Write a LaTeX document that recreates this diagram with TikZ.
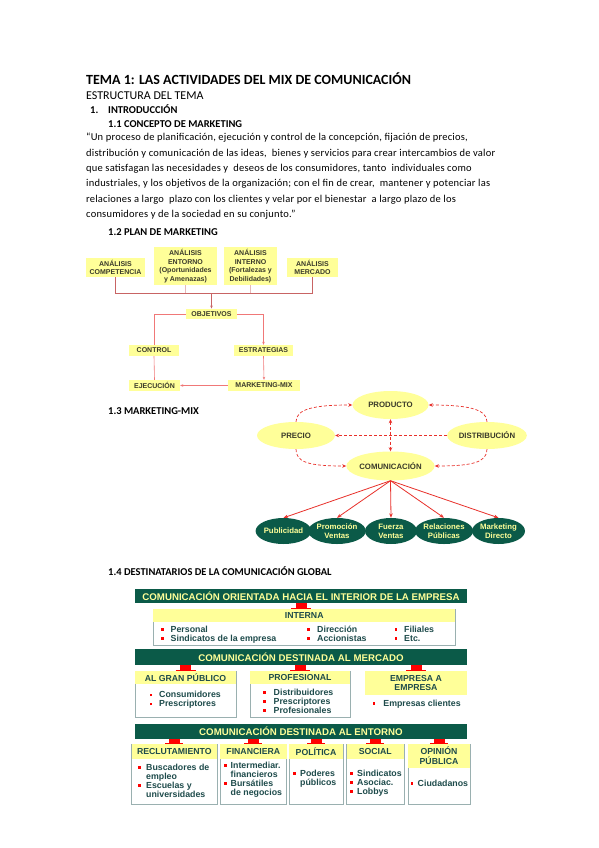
\documentclass[tikz,border=0pt]{standalone}
\usepackage{fontspec}
\setmainfont{Carlito}
\newfontfamily\arialf{Liberation Sans}
\newfontfamily\quotef[LetterSpace=2.0]{Carlito}
\usetikzlibrary{arrows.meta,shapes.geometric,calc}
\definecolor{pyel}{HTML}{FFFF99}
\definecolor{dgreen}{HTML}{0B5A48}
\definecolor{ltext}{HTML}{FFFF99}
\definecolor{ptext}{HTML}{3A3A2A}
\definecolor{itext}{HTML}{1E4B4B}
\definecolor{pline}{HTML}{C86464}
\definecolor{lline}{HTML}{F07878}
\definecolor{mred}{HTML}{E8302A}
\definecolor{bord}{HTML}{9AB0B0}
\newcommand\rbul[1][7.5pt]{\makebox[#1][l]{\color{red}\raisebox{1.6pt}{\rule{2.4pt}{2.4pt}}}}
\newcommand\itind[1][7.5pt]{\hspace*{#1}}
\begin{document}
\begin{tikzpicture}[x=1pt,y=-1pt,
  txt/.style={anchor=base west, inner sep=0pt},
  ttl/.style={txt, font=\fontsize{14}{16}\selectfont\bfseries},
  sub/.style={txt, font=\fontsize{12}{14}\selectfont},
  sec/.style={txt, font=\fontsize{10.5}{12}\selectfont\bfseries},
  qt/.style={txt, font=\quotef\fontsize{10.5}{12}\selectfont},
  pbox/.style={fill=pyel, inner sep=0pt, align=center, text=ptext, font=\arialf\bfseries\fontsize{7}{8.5}\selectfont},
  pln/.style={draw=pline, line width=0.8pt},
  lln/.style={draw=lline, line width=0.6pt},
  ptip/.style={-{Stealth[length=3pt,width=2.5pt]}},
  yell/.style={ellipse, fill=pyel, inner sep=0pt, text=ptext, font=\arialf\bfseries\fontsize{7.8}{9}\selectfont},
  dell/.style={ellipse, fill=dgreen, inner sep=0pt, text=ltext, align=center, minimum height=26pt, font=\arialf\bfseries\fontsize{7.8}{9}\selectfont},
  dsh/.style={draw=mred, dash pattern=on 3pt off 2pt, line width=0.7pt},
  mtip/.style={-{Stealth[length=4pt,width=3.5pt]}},
  sol/.style={draw=mred, line width=0.8pt, -{Stealth[length=4.5pt,width=3.5pt]}},
  bar/.style={fill=dgreen, text=ltext, inner sep=0pt, minimum width=332pt, font=\arialf\bfseries\fontsize{9.7}{11}\selectfont},
  frame/.style={draw=bord, line width=0.8pt, fill=white, inner sep=0pt},
  hdr/.style={fill=pyel, inner sep=0pt, anchor=north, align=center, text=itext, font=\arialf\bfseries\fontsize{8.7}{9.5}\selectfont},
  item/.style={anchor=north west, inner sep=0pt, align=left, text=itext, font=\arialf\bfseries\fontsize{8.8}{9}\selectfont},
  rmark/.style={draw=red, line width=11pt},
  rline/.style={draw=red, line width=0.8pt}
]
\useasboundingbox (0,0) rectangle (599,848);
\fill[white] (0,0) rectangle (599,848);

% ---------- header texts ----------
\node[ttl] (title) at (86,84.5) {TEMA 1: LAS ACTIVIDADES DEL MIX DE COMUNICACIÓN};
\node[sub] (estr) at (86,100) {ESTRUCTURA DEL TEMA};
\node[sec] (n1) at (90,113.5) {1.};
\node[sec] (intro) at (108,113.5) {INTRODUCCIÓN};
\node[sec] (s11) at (108,128) {1.1 CONCEPTO DE MARKETING};
\node[qt] (q1) at (86,140.5) {“Un proceso de planificación, ejecución y control de la concepción, fijación de precios,};
\node[qt] (q2) at (86,156) {distribución y comunicación de las ideas,\ \ bienes y servicios para crear intercambios de valor};
\node[qt] (q3) at (86,171.3) {que satisfagan las necesidades y\ \ deseos de los consumidores, tanto\ \ individuales como};
\node[qt] (q4) at (86,186.7) {industriales, y los objetivos de la organización; con el fin de crear,\ \ mantener y potenciar las};
\node[qt] (q5) at (86,202) {relaciones a largo\ \ plazo con los clientes y velar por el bienestar\ \ a largo plazo de los};
\node[qt] (q6) at (86,217.3) {consumidores y de la sociedad en su conjunto.”};

% ---------- 1.2 plan de marketing ----------
\node[sec] (s12) at (108,235.5) {1.2 PLAN DE MARKETING};
\node[pbox, minimum width=59pt, minimum height=19pt] (comp) at (115.5,267.5) {ANÁLISIS\\COMPETENCIA};
\node[pbox, minimum width=63pt, minimum height=38pt] (ent) at (185.5,266) {ANÁLISIS\\ENTORNO\\(Oportunidades\\y Amenazas)};
\node[pbox, minimum width=53pt, minimum height=38pt] (inte) at (250.5,266) {ANÁLISIS\\INTERNO\\(Fortalezas y\\Debilidades)};
\node[pbox, minimum width=51pt, minimum height=19pt] (merc) at (312.5,267.5) {ANÁLISIS\\MERCADO};
\node[pbox, minimum width=51pt, minimum height=10.5pt] (obj) at (211.5,314) {OBJETIVOS};
\node[pbox, minimum width=50pt, minimum height=11pt] (ctrl) at (154,350.5) {CONTROL};
\node[pbox, minimum width=59pt, minimum height=11pt] (estrat) at (263.5,350.5) {ESTRATEGIAS};
\node[pbox, minimum width=51pt, minimum height=11pt] (ejec) at (154.5,385.5) {EJECUCIÓN};
\node[pbox, minimum width=72pt, minimum height=11pt] (mmix) at (264,385.5) {MARKETING-MIX};
\coordinate (bus) at (211.5,293.3);
\draw[pln] (comp.south) |- (bus) -| (merc.south);
\draw[lln, draw=pline!45] (ent.south) -- (ent.south |- bus);
\draw[lln, draw=pline!45] (inte.south) -- (inte.south |- bus);
\draw[pln, ptip] (bus) -- (obj.north);
\draw[lln, ptip] (obj.east) -| (estrat.north);
\draw[lln, ptip] (estrat.south) -- (mmix.north);
\draw[lln, ptip] (mmix.west) -- (ejec.east);
\draw[lln] (ejec.north) -- (ctrl.south);
\draw[lln] (ctrl.north) |- (obj.west);

% ---------- 1.3 marketing mix ----------
\node[sec] (s13) at (108,414) {1.3 MARKETING-MIX};
\node[yell, minimum width=76pt, minimum height=28pt] (prod) at (390.5,405) {PRODUCTO};
\node[yell, minimum width=78pt, minimum height=27pt] (prec) at (296,435.5) {PRECIO};
\node[yell, minimum width=77pt, minimum height=27pt] (dist) at (487,435.5) {DISTRIBUCIÓN};
\node[yell, minimum width=76pt, minimum height=29pt] (com) at (390.5,466) {COMUNICACIÓN};
\draw[dsh, mtip] (prec.north) .. controls +(0,-13) and +(-38,0) .. (prod.west);
\draw[dsh, mtip] (dist.north) .. controls +(0,-13) and +(38,0) .. (prod.east);
\draw[dsh, mtip] (prec.south) .. controls +(0,13) and +(-38,0) .. (com.west);
\draw[dsh, mtip] (dist.south) .. controls +(0,13) and +(38,0) .. (com.east);
\draw[dsh, mtip] (dist.west) -- (prec.east);
\draw[dsh, {Stealth[length=4pt,width=3.5pt]}-{Stealth[length=4pt,width=3.5pt]}] (prod.south) -- (com.north);
\node[dell, minimum width=53pt] (pub) at (283.5,531) {Publicidad};
\node[dell, minimum width=52pt] (prom) at (337,531) {Promoción\\Ventas};
\node[dell, minimum width=52pt] (fuer) at (391,531) {Fuerza\\Ventas};
\node[dell, minimum width=52pt] (rel) at (444,531) {Relaciones\\Públicas};
\node[dell, minimum width=53pt] (mkd) at (498.5,531) {Marketing\\Directo};
\foreach \t in {pub,prom,fuer,rel,mkd}{\draw[sol] (com.south) -- (\t.north);}

% ---------- 1.4 destinatarios ----------
\node[sec] (s14) at (108,575.5) {1.4 DESTINATARIOS DE LA COMUNICACIÓN GLOBAL};
\node[bar, minimum height=14.5pt] (bar1) at (301,596) {COMUNICACIÓN ORIENTADA HACIA EL INTERIOR DE LA EMPRESA};
\node[frame, minimum width=301.7pt, minimum height=36.7pt] (int) at (304.2,627.3) {};
\node[hdr, minimum width=301.7pt, minimum height=13.3pt] (inth) at (int.north) {INTERNA};
\node[item] (i1) at (161,625.6) {\rbul[9.5pt]Personal\\\rbul[9.5pt]Sindicatos de la empresa};
\node[item] (i2) at (307,625.6) {\rbul[10pt]Dirección\\\rbul[10pt]Accionistas};
\node[item] (i3) at (394.5,625.6) {\rbul[9.5pt]Filiales\\\rbul[9.5pt]Etc.};
\draw[rmark] (bar1.south) -- (bar1.south |- int.north);
\draw[rline] ($(bar1.south |- int.north)+(-10,0)$) -- ($(bar1.south |- int.north)+(10,0)$);

\node[bar, minimum height=15.7pt] (bar2) at (301,657.2) {COMUNICACIÓN DESTINADA AL MERCADO};
\node[frame, minimum width=101pt, minimum height=46pt] (gp) at (185.5,694) {};
\node[hdr, minimum width=101pt, minimum height=13pt] (gph) at (gp.north) {AL GRAN PÚBLICO};
\node[frame, minimum width=100pt, minimum height=46pt] (prof) at (300,694) {};
\node[hdr, minimum width=100pt, minimum height=13pt] (profh) at (prof.north) {PROFESIONAL};
\node[hdr, minimum width=102pt, minimum height=24pt, anchor=center] (emp) at (416,683) {EMPRESA A\\EMPRESA};
\node[item] (g1) at (149.5,691.1) {\rbul[9.5pt]Consumidores\\\rbul[9.5pt]Prescriptores};
\node[item] (p1) at (263,688.6) {\rbul[10.5pt]Distribuidores\\\rbul[10.5pt]Prescriptores\\\rbul[10.5pt]Profesionales};
\node[item] (e1) at (372.7,699.6) {\rbul[10.5pt]Empresas clientes};
\foreach \b in {gp,prof,emp}{
  \draw[rmark] (bar2.south -| \b.north) -- (\b.north);
  \draw[rline] ($(\b.north)+(-10,0)$) -- ($(\b.north)+(10,0)$);
}

\node[bar, minimum height=14.7pt] (bar3) at (301,731.6) {COMUNICACIÓN DESTINADA AL ENTORNO};
\node[frame, minimum width=85.3pt, minimum height=60pt] (rec) at (174.3,774) {};
\node[hdr, minimum width=85.3pt, minimum height=15pt] (rech) at (rec.north) {RECLUTAMIENTO};
\node[frame, minimum width=66.7pt, minimum height=60pt] (fin) at (253.3,774) {};
\node[hdr, minimum width=66.7pt, minimum height=15pt] (finh) at (fin.north) {FINANCIERA};
\node[frame, minimum width=54pt, minimum height=60pt] (pol) at (316,774) {};
\node[hdr, minimum width=54pt, minimum height=15pt] (polh) at (pol.north) {POLÍTICA};
\node[frame, minimum width=57.3pt, minimum height=60pt] (soc) at (375.3,774) {};
\node[hdr, minimum width=57.3pt, minimum height=15pt] (soch) at (soc.north) {SOCIAL};
\node[frame, minimum width=62pt, minimum height=60pt] (opi) at (439,774) {};
\node[hdr, minimum width=62pt, minimum height=24pt] (opih) at (opi.north) {OPINIÓN\\PÚBLICA};
\node[item] (r1) at (138,763.6) {\rbul[8pt]Buscadores de\\\itind[8pt]empleo\\\rbul[8pt]Escuelas y\\\itind[8pt]universidades};
\node[item] (f1) at (224,761.6) {\rbul[6.5pt]Intermediar.\\\itind[6.5pt]financieros\\\rbul[6.5pt]Bursátiles\\\itind[6.5pt]de negocios};
\node[item] (po1) at (293,769.6) {\rbul[7pt]Poderes\\\itind[7pt]públicos};
\node[item] (so1) at (350,769.6) {\rbul[7pt]Sindicatos\\\rbul[7pt]Asociac.\\\rbul[7pt]Lobbys};
\node[item] (o1) at (410.5,779.6) {\rbul[7pt]Ciudadanos};
\foreach \b in {rec,fin,pol,soc,opi}{
  \draw[rmark] (bar3.south -| \b.north) -- (\b.north);
  \draw[rline] ($(\b.north)+(-9,0)$) -- ($(\b.north)+(9,0)$);
}
\end{tikzpicture}
\end{document}
